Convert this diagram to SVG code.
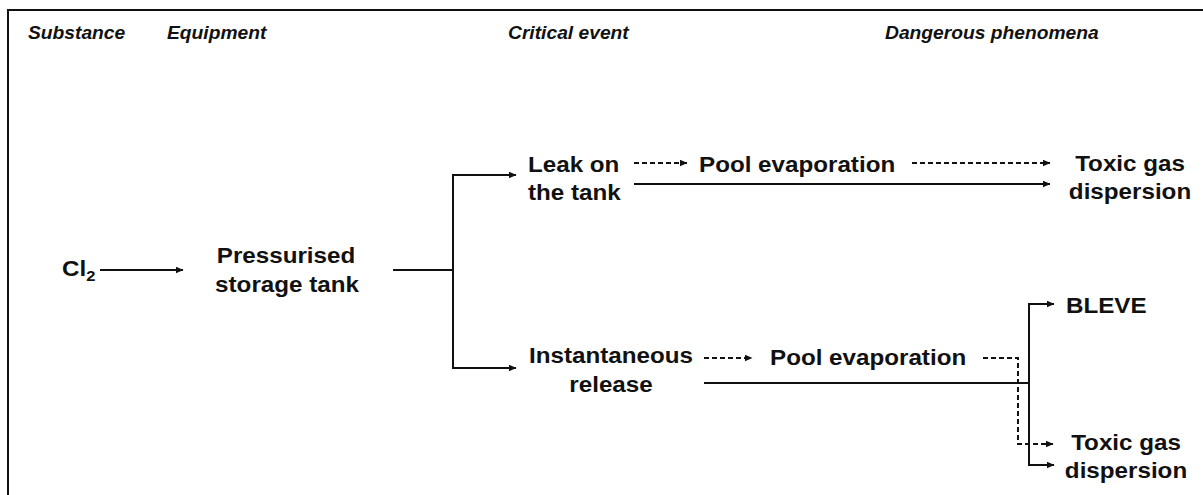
<svg xmlns="http://www.w3.org/2000/svg" width="1203" height="495" viewBox="0 0 1203 495">
<style>
.hd{font-family:"Liberation Sans",Arial,sans-serif;font-size:17.5px;font-weight:bold;font-style:italic;fill:#111}
.t{font-family:"Liberation Sans",Arial,sans-serif;font-size:22px;font-weight:bold;fill:#111}
.m{text-anchor:middle}
.c{fill:none;stroke:#111;stroke-width:2}
.d{stroke-dasharray:5,3}
</style>
<defs>
<marker id="ah" markerWidth="8" markerHeight="7" refX="7.5" refY="3.5" orient="auto" markerUnits="userSpaceOnUse">
<path d="M0,0 L8,3.5 L0,7 z" fill="#111"/>
</marker>
</defs>
<rect width="1203" height="495" fill="#fff"/>
<g id="frame" class="c">
<path d="M8,495 V10 H1203"/>
</g>
<g id="headers">
<text class="hd" transform="translate(28,39) scale(1.1,1)">Substance</text>
<text class="hd" transform="translate(167,39) scale(1.1,1)">Equipment</text>
<text class="hd" transform="translate(508,39) scale(1.1,1)">Critical event</text>
<text class="hd" transform="translate(885,39) scale(1.1,1)">Dangerous phenomena</text>
</g>
<g id="connectors">
<path class="c" d="M100,270 H183" marker-end="url(#ah)"/>
<path class="c" d="M393,270 H453"/>
<path class="c" d="M453,270 V175 H516" marker-end="url(#ah)"/>
<path class="c" d="M453,270 V368 H516" marker-end="url(#ah)"/>
<path class="c d" d="M634,163 H687" marker-end="url(#ah)"/>
<path class="c d" d="M912,163 H1050" marker-end="url(#ah)"/>
<path class="c" d="M634,184 H1050" marker-end="url(#ah)"/>
<path class="c d" d="M704,358 H752" marker-end="url(#ah)"/>
<path class="c d" d="M983,358 H1018 V444 H1053" marker-end="url(#ah)"/>
<path class="c" d="M704,383 H1029"/>
<path class="c" d="M1029,383 V304 H1054" marker-end="url(#ah)"/>
<path class="c" d="M1029,383 V465 H1054" marker-end="url(#ah)"/>
</g>
<g id="cl2">
<text class="t" transform="translate(62,276) scale(1.1,1)">Cl<tspan font-size="15" dy="5">2</tspan></text>
</g>
<g id="tank">
<text class="t m" transform="translate(286,263) scale(1.1,1)">Pressurised</text>
<text class="t m" transform="translate(287,292) scale(1.1,1)">storage tank</text>
</g>
<g id="leak">
<text class="t" transform="translate(528,172) scale(1.1,1)">Leak on</text>
<text class="t" transform="translate(528,200) scale(1.1,1)">the tank</text>
</g>
<g id="pool1">
<text class="t" transform="translate(699,172) scale(1.1,1)">Pool evaporation</text>
</g>
<g id="toxic1">
<text class="t m" transform="translate(1130,171) scale(1.1,1)">Toxic gas</text>
<text class="t m" transform="translate(1130,199) scale(1.1,1)">dispersion</text>
</g>
<g id="inst">
<text class="t m" transform="translate(611,363) scale(1.1,1)">Instantaneous</text>
<text class="t m" transform="translate(611,392) scale(1.1,1)">release</text>
</g>
<g id="pool2">
<text class="t" transform="translate(770,365) scale(1.1,1)">Pool evaporation</text>
</g>
<g id="bleve">
<text class="t" transform="translate(1066,313) scale(1.1,1)">BLEVE</text>
</g>
<g id="toxic2">
<text class="t m" transform="translate(1126,450) scale(1.1,1)">Toxic gas</text>
<text class="t m" transform="translate(1126,478) scale(1.1,1)">dispersion</text>
</g>
</svg>
